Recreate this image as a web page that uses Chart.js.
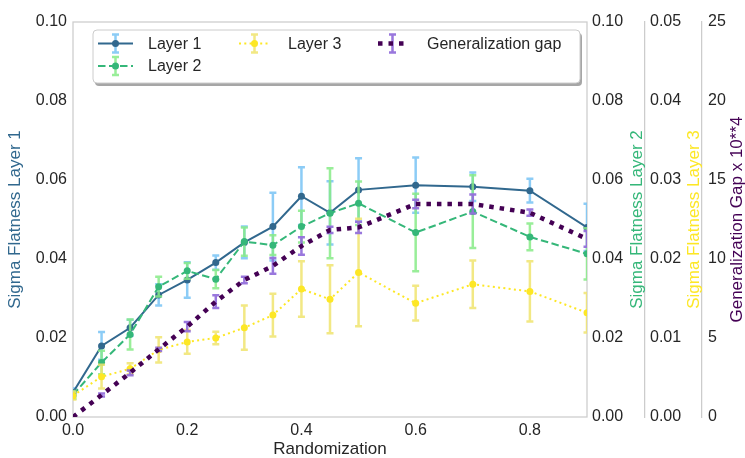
<!DOCTYPE html>
<html>
<head>
<meta charset="utf-8">
<script src="https://cdn.jsdelivr.net/npm/chart.js@4.4.0/dist/chart.umd.min.js"></script>
<style>
  html, body { margin: 0; padding: 0; background: #fff; }
  #wrap { width: 745px; height: 458px; position: relative; }
</style>
</head>
<body>
<div id="wrap"><canvas id="flatnessChart"></canvas></div>
<script>
// data
var randomization = [0, 0.05, 0.1, 0.15, 0.2, 0.25, 0.3, 0.35, 0.4, 0.45, 0.5, 0.6, 0.7, 0.8, 0.9];
var layer1Flatness = [0.0062, 0.0180, 0.0226, 0.0309, 0.0347, 0.0391, 0.0442, 0.0482, 0.0559, 0.0517, 0.0575, 0.0587, 0.0583, 0.0573, 0.0480];
var layer1Err = [0.001, 0.0035, 0.002, 0.0027, 0.0045, 0.0018, 0.004, 0.0086, 0.0073, 0.008, 0.008, 0.007, 0.0036, 0.003, 0.006];
var layer2Flatness = [0.0056, 0.0138, 0.0209, 0.0330, 0.0370, 0.0349, 0.0444, 0.0435, 0.0482, 0.0516, 0.0541, 0.0467, 0.0520, 0.0456, 0.0413];
var layer2Err = [0.001, 0.003, 0.0038, 0.0025, 0.002, 0.0023, 0.0036, 0.0025, 0.004, 0.0114, 0.0055, 0.0098, 0.0092, 0.0034, 0.0065];
var layer3Flatness = [0.0027, 0.0051, 0.0061, 0.0085, 0.0095, 0.0100, 0.0113, 0.0129, 0.0162, 0.0149, 0.0183, 0.0144, 0.0168, 0.0159, 0.0132];
var layer3Err = [0.0005, 0.0015, 0.0007, 0.0016, 0.0015, 0.0008, 0.0028, 0.0027, 0.0035, 0.0043, 0.0068, 0.0022, 0.003, 0.0038, 0.0025];
var genGap = [0, 1.39, 2.8, 4.28, 5.72, 7.3, 8.67, 9.56, 10.82, 11.84, 12.0, 13.48, 13.48, 12.93, 11.27];
var genGapErr = [0.05, 0.1, 0.15, 0.1, 0.3, 0.4, 0.2, 0.5, 0.55, 0.2, 0.35, 0.27, 0.6, 0.2, 0.5];

var xTicks = [0, 0.2, 0.4, 0.6, 0.8];
var flatTicks = [0, 0.02, 0.04, 0.06, 0.08, 0.10];
var layer3Ticks = [0, 0.01, 0.02, 0.03, 0.04, 0.05];
var gapTicks = [0, 5, 10, 15, 20, 25];

var FONT = "'Liberation Sans', Arial, sans-serif";
var TEXT = '#262626';
var SPINE = '#cccccc';

function points(ys) {
    return ys.map(function (y, i) { return { x: randomization[i], y: y }; });
}

function fixedTicks(list) {
    return function (scale) {
        scale.ticks = list.map(function (v) { return { value: v }; });
    };
}

// error bars, drawn under each dataset's own line
var errorBars = {
    id: 'errorBars',
    beforeDatasetDraw: function (chart, args) {
        var ds = chart.data.datasets[args.index];
        if (!ds.errors) return;
        var ctx = chart.ctx;
        var xs = chart.scales.x;
        var ys = chart.scales[ds.yAxisID];
        var area = chart.chartArea;
        ctx.save();
        ctx.beginPath();
        ctx.rect(area.left, area.top, area.right - area.left, area.bottom - area.top);
        ctx.clip();
        ctx.strokeStyle = ds.errorColor;
        ctx.lineWidth = 2.5;
        ctx.setLineDash([]);
        ds.data.forEach(function (p, i) {
            var px = xs.getPixelForValue(p.x);
            var top = ys.getPixelForValue(p.y + ds.errors[i]);
            var bot = ys.getPixelForValue(p.y - ds.errors[i]);
            ctx.beginPath();
            ctx.moveTo(px, top); ctx.lineTo(px, bot);
            ctx.moveTo(px - 3.5, top); ctx.lineTo(px + 3.5, top);
            ctx.moveTo(px - 3.5, bot); ctx.lineTo(px + 3.5, bot);
            ctx.stroke();
        });
        ctx.restore();
    }
};

// light frame round the plot
var frame = {
    id: 'frame',
    beforeDatasetsDraw: function (chart) {
        var a = chart.chartArea, ctx = chart.ctx;
        ctx.save();
        ctx.strokeStyle = SPINE;
        ctx.lineWidth = 1.25;
        ctx.strokeRect(a.left, a.top, a.right - a.left, a.bottom - a.top);
        ctx.restore();
    }
};

// right axis titles read bottom-to-top like the left one
var rightTitles = {
    id: 'rightTitles',
    afterDraw: function (chart) {
        var ctx = chart.ctx, a = chart.chartArea;
        var cy = (a.top + a.bottom) / 2;
        [['y2', 'Sigma Flatness Layer 2', '#35b779'],
         ['y3', 'Sigma Flatness Layer 3', '#fde725'],
         ['y4', 'Generalization Gap x 10**4', '#440154']].forEach(function (t) {
            var s = chart.scales[t[0]];
            ctx.save();
            ctx.translate(s.right - 8, cy);
            ctx.rotate(-Math.PI / 2);
            ctx.font = '17px ' + FONT;
            ctx.fillStyle = t[2];
            ctx.textAlign = 'center';
            ctx.textBaseline = 'middle';
            ctx.fillText(t[1], 0, 0);
            ctx.restore();
        });
    }
};

// legend box in the upper part of the plot, 3 columns
var boxLegend = {
    id: 'boxLegend',
    afterDraw: function (chart) {
        var ctx = chart.ctx;
        var bx = 93, by = 30, bw = 487, bh = 53;
        ctx.save();
        ctx.fillStyle = 'rgba(0,0,0,0.35)';
        roundRect(ctx, bx + 2, by + 3, bw, bh, 4); ctx.fill();
        ctx.fillStyle = '#fff';
        ctx.strokeStyle = SPINE;
        ctx.lineWidth = 1;
        roundRect(ctx, bx, by, bw, bh, 4); ctx.fill(); ctx.stroke();

        var slots = [[98, 43.5], [98, 66], [239, 43.5], [378, 43.5]];
        chart.data.datasets.forEach(function (ds, i) {
            var hx = slots[i][0], hy = slots[i][1], hw = ds.handleWidth;
            var cx = hx + hw / 2;
            // error bar
            ctx.strokeStyle = ds.errorColor;
            ctx.lineWidth = 2.5;
            ctx.setLineDash([]);
            ctx.beginPath();
            ctx.moveTo(cx, hy - 9); ctx.lineTo(cx, hy + 9);
            ctx.moveTo(cx - 3.5, hy - 9); ctx.lineTo(cx + 3.5, hy - 9);
            ctx.moveTo(cx - 3.5, hy + 9); ctx.lineTo(cx + 3.5, hy + 9);
            ctx.stroke();
            // line
            ctx.strokeStyle = ds.borderColor;
            ctx.lineWidth = ds.borderWidth;
            ctx.lineCap = 'butt';
            ctx.setLineDash(ds.borderDash || []);
            ctx.beginPath();
            ctx.moveTo(hx, hy); ctx.lineTo(hx + hw, hy);
            ctx.stroke();
            ctx.setLineDash([]);
            if (ds.pointRadius) {
                ctx.fillStyle = ds.borderColor;
                ctx.beginPath();
                ctx.arc(cx, hy, ds.pointRadius, 0, Math.PI * 2);
                ctx.fill();
            }
            ctx.fillStyle = TEXT;
            ctx.font = '16px ' + FONT;
            ctx.textAlign = 'left';
            ctx.textBaseline = 'middle';
            ctx.fillText(ds.label, hx + ds.textGap, hy + 1);
        });
        ctx.restore();
    }
};

function roundRect(ctx, x, y, w, h, r) {
    ctx.beginPath();
    ctx.moveTo(x + r, y);
    ctx.arcTo(x + w, y, x + w, y + h, r);
    ctx.arcTo(x + w, y + h, x, y + h, r);
    ctx.arcTo(x, y + h, x, y, r);
    ctx.arcTo(x, y, x + w, y, r);
    ctx.closePath();
}

function yAxis(opts) {
    var axis = {
        type: 'linear',
        position: opts.position,
        weight: opts.weight,
        min: opts.ticks[0],
        max: opts.ticks[opts.ticks.length - 1],
        afterBuildTicks: fixedTicks(opts.ticks),
        afterFit: function (scale) { scale.width = opts.width; },
        grid: { display: false, drawTicks: false },
        border: { display: !!opts.spine, color: SPINE, width: 1.25 },
        ticks: {
            padding: opts.pad,
            color: TEXT,
            font: { family: FONT, size: 16 },
            callback: opts.format
        },
        title: { display: false }
    };
    if (opts.title) axis.title = opts.title;
    return axis;
}

var ctx = document.getElementById('flatnessChart').getContext('2d');
new Chart(ctx, {
    type: 'line',
    data: {
        datasets: [{
            label: 'Layer 1',
            data: points(layer1Flatness),
            errors: layer1Err,
            errorColor: 'rgba(120,195,245,0.85)',
            yAxisID: 'y',
            borderColor: '#31688e',
            backgroundColor: '#31688e',
            borderWidth: 2,
            pointRadius: 3.5,
            pointBorderWidth: 0,
            order: 4,
            handleWidth: 35, textGap: 50
        }, {
            label: 'Layer 2',
            data: points(layer2Flatness),
            errors: layer2Err,
            errorColor: 'rgba(135,235,135,0.85)',
            yAxisID: 'y2',
            borderColor: '#35b779',
            backgroundColor: '#35b779',
            borderWidth: 2,
            borderDash: [7.5, 3.5],
            pointRadius: 3.5,
            pointBorderWidth: 0,
            order: 3,
            handleWidth: 35, textGap: 50
        }, {
            label: 'Layer 3',
            data: points(layer3Flatness),
            errors: layer3Err,
            errorColor: 'rgba(240,228,110,0.85)',
            yAxisID: 'y3',
            borderColor: '#fde725',
            backgroundColor: '#fde725',
            borderWidth: 2,
            borderDash: [2, 3.3],
            pointRadius: 3.5,
            pointBorderWidth: 0,
            order: 2,
            handleWidth: 31, textGap: 49
        }, {
            label: 'Generalization gap',
            data: points(genGap),
            errors: genGapErr,
            errorColor: 'rgba(147,112,219,0.95)',
            yAxisID: 'y4',
            borderColor: '#440154',
            backgroundColor: '#440154',
            borderWidth: 4.5,
            borderDash: [4.5, 6],
            borderCapStyle: 'butt',
            pointRadius: 0,
            order: 1,
            handleWidth: 29, textGap: 49
        }]
    },
    options: {
        responsive: true,
        maintainAspectRatio: false,
        animation: false,
        events: [],
        layout: { padding: { top: 22, left: 0, right: 0, bottom: 0 } },
        plugins: { legend: { display: false }, tooltip: { enabled: false } },
        scales: {
            x: {
                type: 'linear',
                min: 0,
                max: 0.9,
                afterBuildTicks: fixedTicks(xTicks),
                afterFit: function (scale) { scale.height = 41; },
                grid: { display: false, drawTicks: false },
                border: { display: false },
                ticks: {
                    padding: 4,
                    color: TEXT,
                    font: { family: FONT, size: 16 },
                    callback: function (v) { return v.toFixed(1); }
                },
                title: {
                    display: true,
                    text: 'Randomization',
                    color: TEXT,
                    font: { family: FONT, size: 17, lineHeight: 1 },
                    padding: 0
                }
            },
            y: yAxis({
                position: 'left', weight: 0, ticks: flatTicks, width: 73, pad: 6,
                format: function (v) { return v.toFixed(2); },
                title: {
                    display: true,
                    text: 'Sigma Flatness Layer 1',
                    color: '#31688e',
                    font: { family: FONT, size: 17 },
                    padding: { top: 5, bottom: 0 }
                }
            }),
            y2: yAxis({
                position: 'right', weight: 1, ticks: flatTicks, width: 58, pad: 5,
                format: function (v) { return v.toFixed(2); }
            }),
            y3: yAxis({
                position: 'right', weight: 2, ticks: layer3Ticks, width: 57, pad: 5, spine: true,
                format: function (v) { return v.toFixed(2); }
            }),
            y4: yAxis({
                position: 'right', weight: 3, ticks: gapTicks, width: 43, pad: 6, spine: true,
                format: function (v) { return String(v); }
            })
        }
    },
    plugins: [frame, errorBars, rightTitles, boxLegend]
});
</script>
</body>
</html>
